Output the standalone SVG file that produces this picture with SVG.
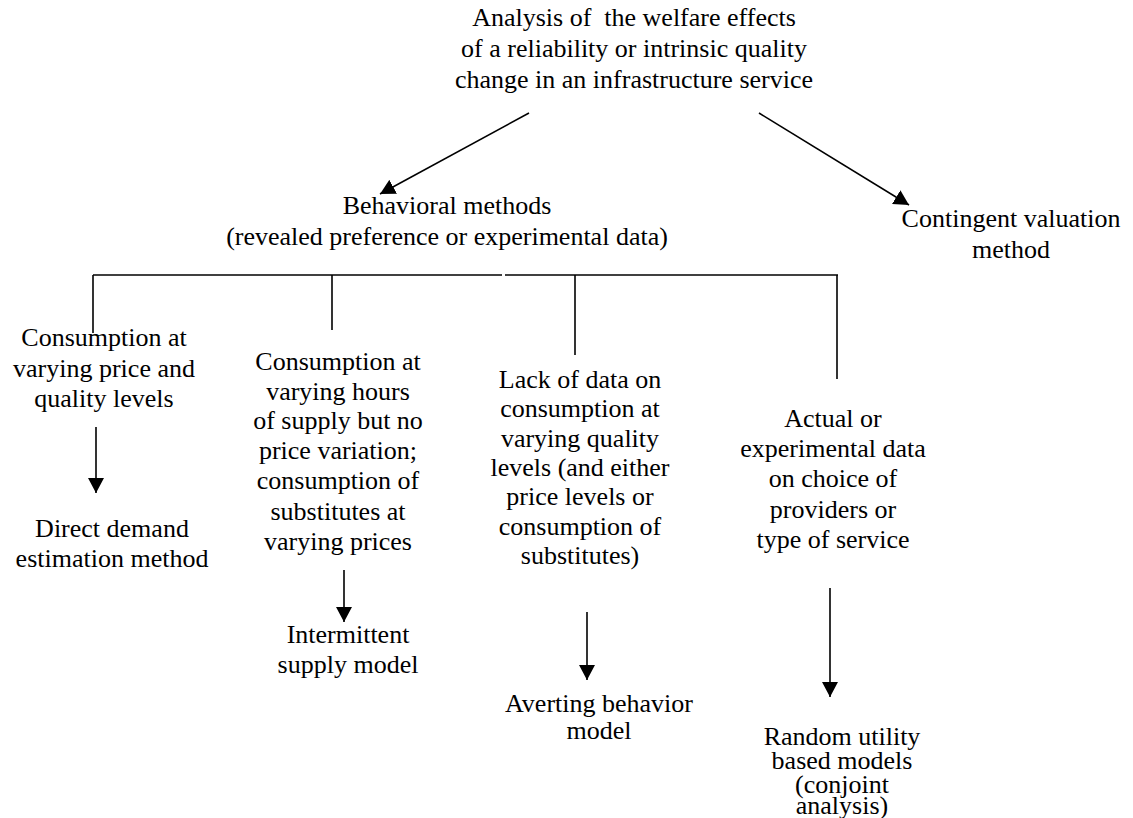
<svg xmlns="http://www.w3.org/2000/svg" width="1133" height="818" viewBox="0 0 1133 818">
<style>
text{font-family:"Liberation Serif","Times New Roman",serif;font-size:26px;fill:#000;text-anchor:middle;white-space:pre}
.ln{stroke:#000;stroke-width:1.6;fill:none}
</style>
<defs>
<marker id="ah" markerUnits="userSpaceOnUse" markerWidth="16" markerHeight="16" viewBox="0 0 16 16" refX="15" refY="8" orient="auto">
<path d="M0,0 L15,8 L0,16 Z" fill="#000"/>
</marker>
</defs>
<rect width="1133" height="818" fill="#fff"/>
<g id="connectors">
<line class="ln" x1="529" y1="113" x2="380" y2="194" marker-end="url(#ah)"/>
<line class="ln" x1="759" y1="113" x2="909" y2="205" marker-end="url(#ah)"/>
<line class="ln" x1="93" y1="275" x2="502" y2="275"/>
<line class="ln" x1="505" y1="275" x2="838" y2="275"/>
<line class="ln" x1="93" y1="275" x2="93" y2="333"/>
<line class="ln" x1="332" y1="275" x2="332" y2="330"/>
<line class="ln" x1="575" y1="275" x2="575" y2="355"/>
<line class="ln" x1="837" y1="275" x2="837" y2="379"/>
<line class="ln" x1="96" y1="427" x2="96" y2="493" marker-end="url(#ah)"/>
<line class="ln" x1="344" y1="570" x2="344" y2="622" marker-end="url(#ah)"/>
<line class="ln" x1="587" y1="612" x2="587" y2="680" marker-end="url(#ah)"/>
<line class="ln" x1="830" y1="588" x2="830" y2="697" marker-end="url(#ah)"/>
</g>
<g id="root">
<text x="634" y="26">Analysis of  the welfare effects</text>
<text x="634" y="57">of a reliability or intrinsic quality</text>
<text x="634" y="88">change in an infrastructure service</text>
</g>
<g id="behavioral">
<text x="447" y="214">Behavioral methods</text>
<text x="447" y="245">(revealed preference or experimental data)</text>
</g>
<g id="contingent">
<text x="1011" y="227">Contingent valuation</text>
<text x="1011" y="258">method</text>
</g>
<g id="col1">
<text x="104" y="346">Consumption at</text>
<text x="104" y="377">varying price and</text>
<text x="104" y="407">quality levels</text>
</g>
<g id="direct">
<text x="112" y="537">Direct demand</text>
<text x="112" y="567">estimation method</text>
</g>
<g id="col2">
<text x="338" y="370">Consumption at</text>
<text x="338" y="400">varying hours</text>
<text x="338" y="429">of supply but no</text>
<text x="338" y="459">price variation;</text>
<text x="338" y="489">consumption of</text>
<text x="338" y="520">substitutes at</text>
<text x="338" y="550">varying prices</text>
</g>
<g id="intermittent">
<text x="348" y="643">Intermittent</text>
<text x="348" y="673">supply model</text>
</g>
<g id="col3">
<text x="580" y="388">Lack of data on</text>
<text x="580" y="417">consumption at</text>
<text x="580" y="447">varying quality</text>
<text x="580" y="476">levels (and either</text>
<text x="580" y="505">price levels or</text>
<text x="580" y="535">consumption of</text>
<text x="580" y="564">substitutes)</text>
</g>
<g id="averting">
<text x="599" y="712">Averting behavior</text>
<text x="599" y="739">model</text>
</g>
<g id="col4">
<text x="833" y="427">Actual or</text>
<text x="833" y="457">experimental data</text>
<text x="833" y="487">on choice of</text>
<text x="833" y="518">providers or</text>
<text x="833" y="548">type of service</text>
</g>
<g id="random">
<text x="842" y="745">Random utility</text>
<text x="842" y="769">based models</text>
<text x="842" y="793">(conjoint</text>
<text x="842" y="814">analysis)</text>
</g>
</svg>
